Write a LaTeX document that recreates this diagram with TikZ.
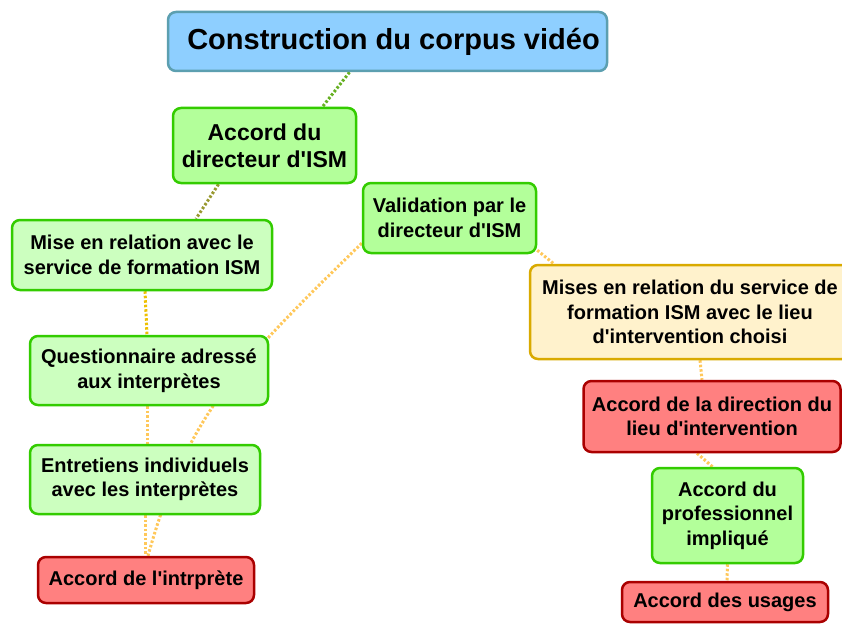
\documentclass[tikz,border=0pt]{standalone}
\usepackage{fontspec}
\setmainfont{Liberation Sans}
\usetikzlibrary{backgrounds}
\definecolor{rootfill}{HTML}{8ECFFF}
\definecolor{rootline}{HTML}{5C9FB0}
\definecolor{greenfill}{HTML}{B3FF9A}
\definecolor{palegreen}{HTML}{CCFFBF}
\definecolor{greenline}{HTML}{33CC00}
\definecolor{redfill}{HTML}{FF8080}
\definecolor{redline}{HTML}{AA0000}
\definecolor{yellowfill}{HTML}{FFF2CC}
\definecolor{yellowline}{HTML}{D9AA00}
\definecolor{linkgreen}{HTML}{66B022}
\definecolor{linkolive}{HTML}{999930}
\definecolor{linkgold}{HTML}{EEC000}
\definecolor{linkorange}{HTML}{FFC85A}
\newcommand{\apos}{\textquotesingle}
\begin{document}
\begin{tikzpicture}[x=1pt,y=-1pt,
  every node/.style={font=\bfseries\fontsize{20}{24.5}\selectfont,align=center,inner sep=0pt},
  topic/.style={draw,line width=2.5pt,rounded corners=8pt},
  rootbox/.style={topic,fill=rootfill,draw=rootline,font=\bfseries\fontsize{29}{34}\selectfont},
  greenbox/.style={topic,fill=greenfill,draw=greenline},
  palebox/.style={topic,fill=palegreen,draw=greenline},
  redbox/.style={topic,fill=redfill,draw=redline},
  yellowbox/.style={topic,fill=yellowfill,draw=yellowline},
  link/.style={line width=3pt,dash pattern=on 2.5pt off 2pt}]
  \clip (0,0) rectangle (842,623);
  % main branch
  \node[rootbox,minimum width=439pt,minimum height=59pt] (root) at (387.5,41.5) {\hspace*{12pt}Construction du corpus vidéo};
  \node[greenbox,minimum width=183pt,minimum height=75pt,font=\bfseries\fontsize{23}{27}\selectfont] (dir) at (264.5,145.5) {Accord du\\directeur d\apos ISM};
  \node[greenbox,minimum width=173pt,minimum height=70pt] (val) at (449.5,218) {Validation par le\\directeur d\apos ISM};
  \node[palebox,minimum width=260pt,minimum height=70pt] (mise) at (142,255) {Mise en relation avec le\\service de formation ISM};
  \node[palebox,minimum width=238pt,minimum height=69pt] (quest) at (149,370.5) {Questionnaire adressé\\aux interprètes};
  \node[palebox,minimum width=230pt,minimum height=69pt] (entr) at (145,479.5) {Entretiens individuels\\avec les interprètes};
  \node[redbox,minimum width=216pt,minimum height=46pt] (intr) at (146,580) {Accord de l\apos intrprète};
  % right branch
  \node[yellowbox,minimum width=320pt,minimum height=94pt] (lieu) at (690,312) {Mises en relation du service de\\formation ISM avec le lieu\\d\apos intervention choisi};
  \node[redbox,minimum width=257pt,minimum height=71pt] (direc) at (712,416.5) {Accord de la direction du\\lieu d\apos intervention};
  \node[greenbox,minimum width=151pt,minimum height=95pt] (prof) at (727.5,515.5) {Accord du\\professionnel\\impliqué};
  \node[redbox,minimum width=206pt,minimum height=40pt] (usage) at (725,602) {Accord des usages};
  \begin{pgfonlayer}{background}
    \fill[white] (0,0) rectangle (842,623);
    \draw[link,linkgreen] ([xshift=-38pt]root.south) -- ([xshift=58pt]dir.north);
    \draw[link,linkolive] ([xshift=-46pt]dir.south) -- ([xshift=54pt]mise.north);
    \draw[link,linkgold] ([xshift=3pt]mise.south) -- ([xshift=-2pt]quest.north);
    \draw[link,linkorange] ([xshift=-2pt]quest.south) -- ([xshift=2pt]entr.north);
    \draw[link,linkorange] (entr.south) -- ([xshift=-1pt]intr.north);
    \draw[link,linkorange] ([yshift=11pt]val.south west) .. controls (232,370) and (187,417) .. ([xshift=2pt]intr.north);
    \draw[link,linkorange] ([yshift=4pt]val.south east) -- ([xshift=25pt]lieu.north west);
    \draw[link,linkorange] ([xshift=10pt]lieu.south) -- ([xshift=-10pt]direc.north);
    \draw[link,linkorange] ([xshift=-15pt]direc.south) -- ([xshift=-15pt]prof.north);
    \draw[link,linkorange] (prof.south) -- ([xshift=2pt]usage.north);
  \end{pgfonlayer}
\end{tikzpicture}
\end{document}
